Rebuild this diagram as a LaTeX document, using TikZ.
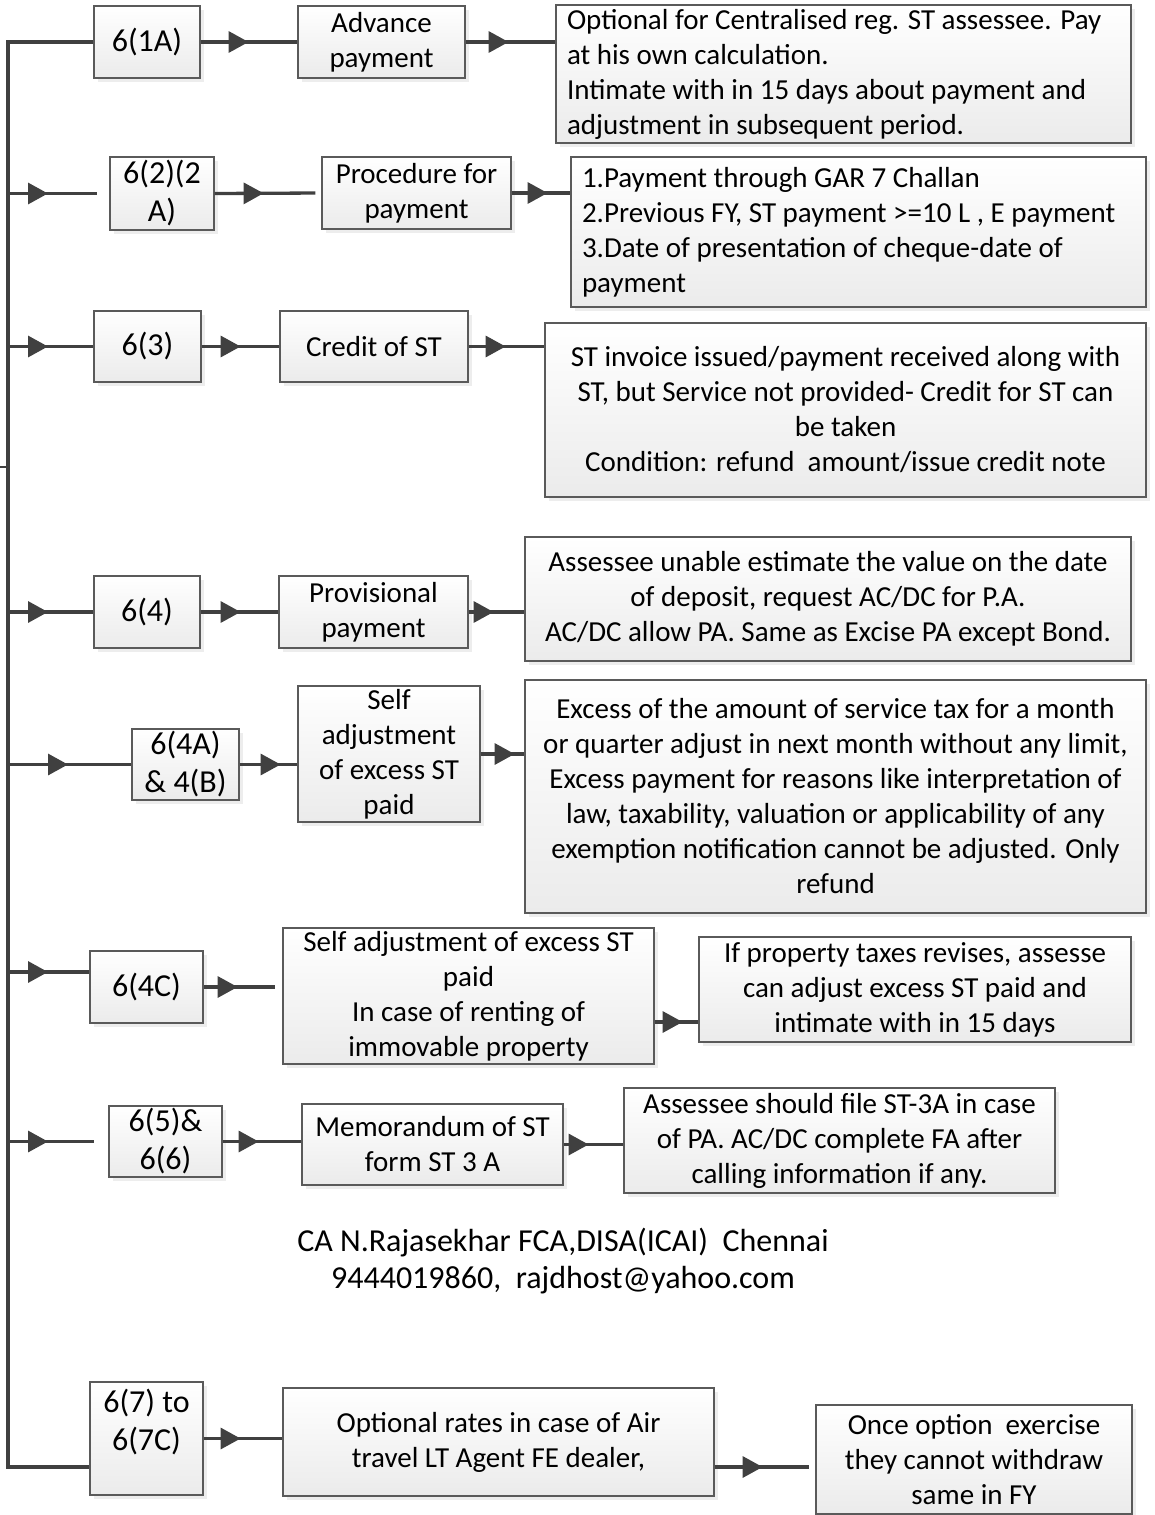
\documentclass[tikz,border=0pt]{standalone}
\usepackage{fontspec}
\setmainfont{Carlito}
\usetikzlibrary{arrows.meta,shadows,decorations.markings,calc}
\definecolor{cline}{HTML}{404040}
\definecolor{bline}{HTML}{5A5A5A}
\definecolor{bfill}{HTML}{EBEBEB}
\newcommand{\bxfont}{\fontsize{29}{35}\selectfont}
\newcommand{\cdfont}{\fontsize{32}{38}\selectfont}
\tikzset{
  box/.style={draw=bline, line width=1.2pt, top color=white, bottom color=bfill,
    drop shadow={shadow xshift=4pt, shadow yshift=-4pt, fill=black!14},
    inner sep=0pt, font=\bxfont, align=center},
  codebox/.style={box, font=\cdfont},
  lbox/.style={box, align=flush left, text width=553pt, inner xsep=11pt},
  conn/.style={draw=cline, color=cline, line width=3.3pt, postaction={decorate},
    decoration={markings, mark=at position #1 with {\arrow{Triangle[length=20pt,width=21pt]}}}},
  plain/.style={draw=cline, line width=3.3pt},
}
\begin{document}
\begin{tikzpicture}[x=1pt,y=-1pt]
\useasboundingbox (0,0) rectangle (1155,1515);
% row 1
\node[codebox, minimum width=106pt, minimum height=72pt] (b1a) at (147,42) {6(1A)};
\node[box, minimum width=167pt, minimum height=72pt] (adv) at (381.5,42) {Advance\\payment};
\node[lbox, minimum height=138pt] (opt) at (843.5,74) {Optional for Centralised reg. ST assessee. Pay\\at his own calculation.\\Intimate with in 15 days about payment and\\adjustment in subsequent period.};
% row 2
\node[codebox, minimum width=104pt, minimum height=73pt] (b2) at (162,193.5) {6(2)(2\\A)};
\node[box, minimum width=189pt, minimum height=72pt] (proc) at (416.5,193) {Procedure for\\payment};
\node[lbox, minimum height=150pt] (pay) at (858.5,232) {1.Payment through GAR 7 Challan\\2.Previous FY, ST payment >=10 L , E payment\\3.Date of presentation of cheque-date of\\payment};
% row 3
\node[codebox, minimum width=107pt, minimum height=71pt] (b3) at (147.5,346.5) {6(3)};
\node[box, minimum width=188pt, minimum height=71pt] (cred) at (374,346.5) {Credit of ST};
\node[box, minimum width=601pt, minimum height=174pt] (inv) at (845.5,410) {ST invoice issued/payment received along with\\ST, but Service not provided- Credit for ST can\\be taken\\Condition: refund\ \ amount/issue credit note};
% row 4
\node[codebox, minimum width=106pt, minimum height=72pt] (b4) at (147,612) {6(4)};
\node[box, minimum width=189pt, minimum height=72pt] (prov) at (373.5,612) {Provisional\\payment};
\node[box, minimum width=606pt, minimum height=124pt] (asse) at (828,599) {Assessee unable estimate the value on the date\\of deposit, request AC/DC for P.A.\\AC/DC allow PA. Same as Excise PA except Bond.};
% row 5
\node[codebox, minimum width=107pt, minimum height=71pt] (b4a) at (185.5,764.5) {6(4A)\\\& 4(B)};
\node[box, minimum width=182pt, minimum height=136pt] (self) at (389,754) {Self\\adjustment\\of excess ST\\paid};
\node[box, minimum width=621pt, minimum height=233pt] (exc) at (835.5,796.5) {Excess of the amount of service tax for a month\\or quarter adjust in next month without any limit,\\Excess payment for reasons like interpretation of\\law, taxability, valuation or applicability of any\\exemption notification cannot be adjusted. Only\\refund};
% row 6
\node[codebox, minimum width=113pt, minimum height=72pt] (b4c) at (146.5,987) {6(4C)};
\node[box, minimum width=371pt, minimum height=136pt] (rent) at (468.5,996) {Self adjustment of excess ST\\paid\\In case of renting of\\immovable property};
\node[box, minimum width=432pt, minimum height=105pt] (prop) at (915,989.5) {If property taxes revises, assesse\\can adjust excess ST paid and\\intimate with in 15 days};
% row 7
\node[codebox, minimum width=113pt, minimum height=71pt] (b56) at (165.5,1141.5) {6(5)\&\\6(6)};
\node[box, minimum width=261pt, minimum height=81pt] (memo) at (432.5,1144.5) {Memorandum of ST\\form ST 3 A};
\node[box, minimum width=431pt, minimum height=105pt] (st3a) at (839.5,1140.5) {Assessee should file ST-3A in case\\of PA. AC/DC complete FA after\\calling information if any.};
% credit
\node[font=\fontsize{32}{37}\selectfont, align=center, inner sep=0pt] (credit) at (563,1261) {CA N.Rajasekhar FCA,DISA(ICAI)\ \ Chennai\\9444019860,\ \ rajdhost@yahoo.com};
% row 8
\node[codebox, minimum width=113pt, minimum height=113pt] (b67) at (146.5,1438.5) {6(7) to\\6(7C)\\\mbox{}};
\node[box, minimum width=431pt, minimum height=108pt] (air) at (498.5,1442) {Optional rates in case of Air\\travel LT Agent FE dealer,};
\node[box, minimum width=316pt, minimum height=109pt] (once) at (974,1459.5) {Once option\ \ exercise\\they cannot withdraw\\same in FY};

% spine
\coordinate (top) at (8,42);
\coordinate (bot) at (8,1467);
\coordinate (stub) at (0,467);
\draw[plain, line join=miter] (b1a.west) -- (top) -- (bot) -- (bot -| b67.west);
\draw[draw=cline, line width=2pt] (stub) -- (stub -| top);

% row 1
\draw[conn=48pt] (b1a.east) -- (adv.west);
\draw[conn=43pt] (adv.east) -- (adv.east -| opt.west);
% row 2
\draw[conn=40pt, shorten >=12pt] (top |- b2.west) -- (b2.west);
\draw[conn=49pt, shorten >=6pt] (b2.east) -- (proc.west);
\draw[conn=36pt] (proc.east) -- (proc.east -| pay.west);
% row 3
\draw[conn=40pt] (top |- b3.west) -- (b3.west);
\draw[conn=39pt] (b3.east) -- (cred.west);
\draw[conn=37pt] (cred.east) -- (cred.east -| inv.west);
% row 4
\draw[conn=40pt] (top |- b4.west) -- (b4.west);
\draw[conn=40pt] (b4.east) -- (prov.west);
\draw[conn=25pt] (prov.east) -- (prov.east -| asse.west);
% row 5
\draw[conn=60pt] (top |- b4a.west) -- (b4a.west);
\draw[conn=41pt] (b4a.east) -- (b4a.east -| self.west);
\draw[conn=34pt] (self.east) -- (self.east -| exc.west);
% row 6
\coordinate (r6) at (8,972);
\draw[conn=40pt] (r6) -- (r6 -| b4c.west);
\draw[conn=34pt, shorten >=7pt] (b4c.east) -- (b4c.east -| rent.west);
\path ([yshift=-26pt]rent.east) coordinate (r6b);
\draw[conn=28pt] (r6b) -- (r6b -| prop.west);
% row 7
\draw[conn=40pt, shorten >=14pt] (top |- b56.west) -- (b56.west);
\draw[conn=36pt] (b56.east) -- (b56.east -| memo.west);
\draw[conn=25pt] (memo.east) -- (memo.east -| st3a.west);
% row 8
\draw[conn=37pt] (b67.east) -- (b67.east -| air.west);
\path ([yshift=-25pt]air.east) coordinate (r8b);
\draw[conn=48pt, shorten >=6pt] (r8b) -- (r8b -| once.west);
\end{tikzpicture}
\end{document}
